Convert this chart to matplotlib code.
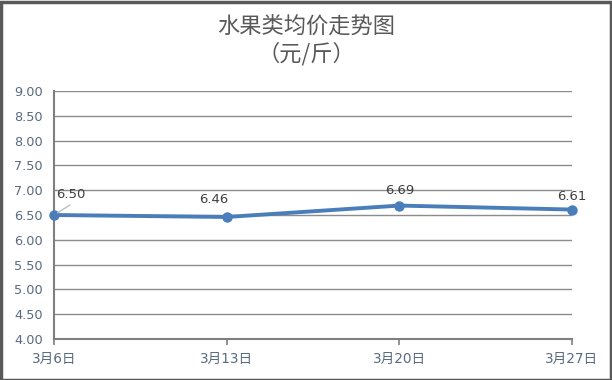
import matplotlib
matplotlib.use("Agg")
import matplotlib.pyplot as plt
from matplotlib.patches import Rectangle

plt.rcParams['font.family'] = ['DejaVu Sans', 'Noto Sans CJK SC']

categories = ["3月6日", "3月13日", "3月20日", "3月27日"]
values = [6.50, 6.46, 6.69, 6.61]
label_texts = ["6.50", "6.46", "6.69", "6.61"]
y_ticks = [4.00, 4.50, 5.00, 5.50, 6.00, 6.50, 7.00, 7.50, 8.00, 8.50, 9.00]

W, H = 612, 380
fig = plt.figure(figsize=(W / 100, H / 100), dpi=100)
ax = fig.add_axes([54 / W, 1 - 339 / H, (572 - 54) / W, (339 - 91) / H])

x = list(range(len(categories)))
ax.plot(x, values, color='#4A7EBB', lw=2.8, marker='o', ms=6.5, zorder=3, clip_on=False)

ax.set_xlim(0, len(categories) - 1)
ax.set_ylim(4.0, 9.0)
ax.set_yticks(y_ticks)
ax.set_yticklabels([f"{v:.2f}" for v in y_ticks])
ax.set_xticks(x)
ax.set_xticklabels(categories)

ax.grid(axis='y', color='#8c8c8c', lw=1.0)
ax.set_axisbelow(True)
for s in ['top', 'right']:
    ax.spines[s].set_visible(False)
for s in ['left', 'bottom']:
    ax.spines[s].set_color('#7f7f7f')
    ax.spines[s].set_linewidth(1.5)

ax.tick_params(axis='y', length=0, pad=8, labelsize=9.3, labelcolor='#5a6a80')
ax.tick_params(axis='x', length=4, width=1.2, color='#7f7f7f', pad=5, labelsize=9.8, labelcolor='#5a6a80')

# data labels (offsets in pixels)
offsets = [(2, 20), (-13, 17), (0, 15), (0, 13)]
aligns = ['left', 'center', 'center', 'center']
for i, (v, lab) in enumerate(zip(values, label_texts)):
    ax.annotate(lab, (x[i], v), xytext=offsets[i], textcoords='offset pixels',
                ha=aligns[i], va='center', fontsize=9.5, color='#404040', zorder=4)
# leader line for first label
ax.annotate('', (x[0], values[0]), xytext=(16, 10), textcoords='offset pixels',
            arrowprops=dict(arrowstyle='-', color='#bfbfbf', lw=1.0, shrinkA=0, shrinkB=3))

fig.text(306 / W, 1 - 26 / H, "水果类均价走势图", ha='center', va='center', fontsize=16,
         color='#595959', family=['Noto Sans CJK SC', 'DejaVu Sans'])
fig.text(306 / W, 1 - 54 / H, "（元/斤）", ha='center', va='center', fontsize=16,
         color='#595959', family=['Noto Sans CJK SC', 'DejaVu Sans'])

fig.patches.append(Rectangle((0.5 / W, 0.5 / H), 1 - 2 / W, 1 - 2 / H, transform=fig.transFigure,
                             fill=False, edgecolor='#595959', lw=2.5))

fig.savefig("out.png", dpi=100)
